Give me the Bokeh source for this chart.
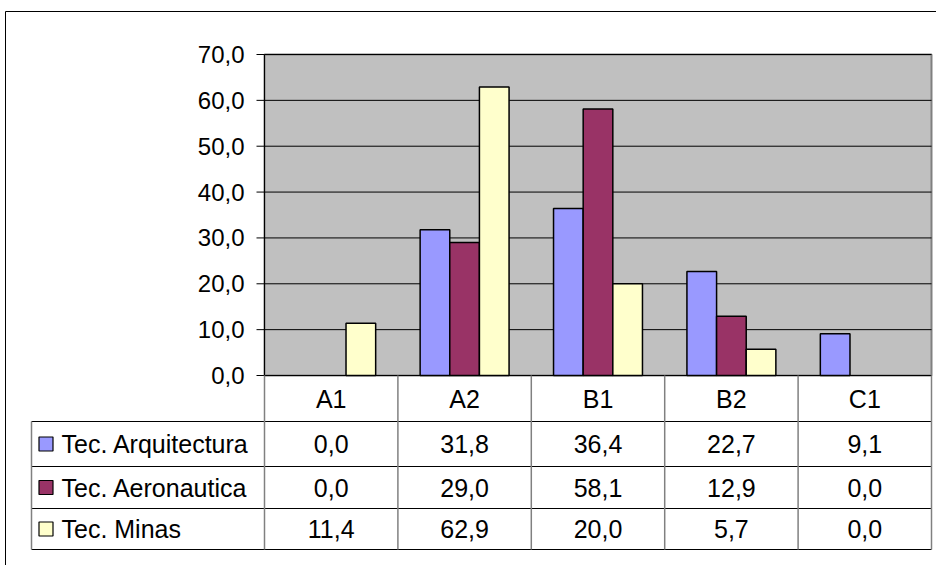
from bokeh.plotting import figure
from bokeh.models import Range1d
from bokeh.core.properties import value
from bokeh.embed import file_html
from bokeh.resources import INLINE

# ---------------- data ----------------
categories = ["A1", "A2", "B1", "B2", "C1"]
series_names = ["Tec. Arquitectura", "Tec. Aeronautica", "Tec. Minas"]
arquitectura = [0.0, 31.8, 36.4, 22.7, 9.1]
aeronautica = [0.0, 29.0, 58.1, 12.9, 0.0]
minas = [11.4, 62.9, 20.0, 5.7, 0.0]
y_ticks = [0, 10, 20, 30, 40, 50, 60, 70]

series_values = [arquitectura, aeronautica, minas]
series_colors = ["#9999FF", "#993366", "#FFFFCC"]

# ---------------- layout (pixels) ----------------
W, H = 936, 565
PL, PR, PT, PB = 264, 931, 54, 375          # plot area
YMAX = y_ticks[-1]
cat_w = (PR - PL) / len(categories)
yscale = (PB - PT) / YMAX
FONT = value("Liberation Sans")
FS = "24px"
FS_TABLE = "25px"

def fmt(v):
    return f"{v:.1f}".replace(".", ",")

p = figure(width=W, height=H, x_range=Range1d(0, W), y_range=Range1d(H, 0),
           min_border=0, output_backend="svg", toolbar_location=None,
           x_axis_type=None, y_axis_type=None)
p.grid.visible = False
p.outline_line_color = None
p.background_fill_color = "white"
p.border_fill_color = "white"
p.extra_x_ranges = {"cat": Range1d(-PL / cat_w, (W - PL) / cat_w)}
p.extra_y_ranges = {"val": Range1d(-(H - PB) / yscale, PB / yscale)}

# outer chart border
p.segment(x0=[5, 5], y0=[11, 11], x1=[5, W + 5], y1=[H + 5, 11], line_color="black", line_width=1)

# plot area
n = len(categories)
p.quad(left=[0], right=[n], bottom=[0], top=[YMAX], x_range_name="cat", y_range_name="val",
       fill_color="#C0C0C0", line_color="#808080", line_width=2)

# gridlines
p.segment(x0=[0] * (len(y_ticks) - 1), x1=[n] * (len(y_ticks) - 1),
          y0=y_ticks[1:], y1=y_ticks[1:], x_range_name="cat", y_range_name="val",
          line_color="black", line_width=1)

# bars (zero-height bars are not visible in the original)
bw = 1 / 4.5
for k, (vals, col) in enumerate(zip(series_values, series_colors)):
    off = (k - 1) * bw
    xs = [j + 0.5 + off for j in range(n) if vals[j] > 0]
    tops = [v for v in vals if v > 0]
    p.vbar(x=xs, width=bw, bottom=0, top=tops, x_range_name="cat", y_range_name="val",
           fill_color=col, line_color="black", line_width=1.5)

# axes lines
p.segment(x0=[0], x1=[0], y0=[0], y1=[YMAX], x_range_name="cat", y_range_name="val",
          line_color="black", line_width=1)
p.segment(x0=[0], x1=[n], y0=[0], y1=[0], x_range_name="cat", y_range_name="val",
          line_color="black", line_width=1)
# y ticks
p.segment(x0=[PL - 8] * len(y_ticks), x1=[PL] * len(y_ticks), y0=y_ticks, y1=y_ticks,
          y_range_name="val", line_color="black", line_width=1)
p.text(x=[PL - 20] * len(y_ticks), y=y_ticks, text=[fmt(t) for t in y_ticks], y_range_name="val",
       text_font=FONT, text_font_size=FS, text_align="right", text_baseline="middle",
       text_color="black")

# ---------------- data table ----------------
TL = 31
row_lines = [421, 466, 508, 549]
header_mid = (PB + row_lines[0]) / 2
row_mids = [(row_lines[i] + row_lines[i + 1]) / 2 for i in range(3)]

# horizontal table lines
p.segment(x0=[TL] * len(row_lines), x1=[PR] * len(row_lines), y0=row_lines, y1=row_lines,
          line_color="black", line_width=1)
# vertical lines at column boundaries
p.segment(x0=list(range(n + 1)), x1=list(range(n + 1)), y0=[PB] * (n + 1), y1=[row_lines[-1]] * (n + 1),
          x_range_name="cat", line_color="#808080", line_width=1.5)
p.segment(x0=[TL], x1=[TL], y0=[row_lines[0]], y1=[row_lines[-1]], line_color="#808080", line_width=1.5)

# category header
p.text(x=[j + 0.5 for j in range(n)], y=[header_mid] * n, text=categories, x_range_name="cat",
       text_font=FONT, text_font_size=FS_TABLE, text_align="center", text_baseline="middle",
       text_color="black")

# rows
for r, (name, vals, col) in enumerate(zip(series_names, series_values, series_colors)):
    ym = row_mids[r]
    p.rect(x=[45.5], y=[ym], width=14, height=14, fill_color=col, line_color="black", line_width=1.2)
    p.text(x=[61], y=[ym], text=[name], text_font=FONT, text_font_size=FS_TABLE,
           text_align="left", text_baseline="middle", text_color="black")
    p.text(x=[j + 0.5 for j in range(n)], y=[ym] * n, text=[fmt(v) for v in vals], x_range_name="cat",
           text_font=FONT, text_font_size=FS_TABLE, text_align="center", text_baseline="middle",
           text_color="black")

open("out.html", "w").write(file_html(p, INLINE, title="chart"))
